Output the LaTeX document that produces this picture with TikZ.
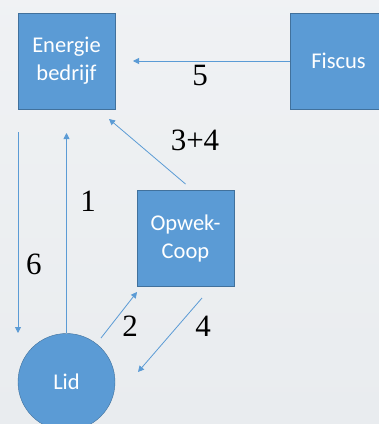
\documentclass[tikz,border=0pt]{standalone}
\usepackage{fontspec}
\newfontfamily\boxfont{Carlito}
\newfontfamily\numfont{Liberation Serif}
\usetikzlibrary{positioning, calc, arrows.meta}
\definecolor{myblue}{HTML}{5B9BD5}
\definecolor{myedge}{HTML}{41719C}
\definecolor{mysky}{HTML}{E9ECEF}
\tikzset{>={Triangle[length=6pt,width=6pt]}}

\begin{document}
\begin{tikzpicture}[x=1pt, y=-1pt,
    party/.style={draw=myedge, fill=myblue, text=white, align=center, inner sep=0pt,
      font=\boxfont\fontsize{22.5}{28}\selectfont, minimum width=97pt, minimum height=96pt},
    flow/.style={->, myblue, line width=0.8pt},
    num/.style={text=black, font=\numfont\fontsize{31}{36}\selectfont}]
    \clip (0,0) rectangle (379,424);
    \fill[top color=mysky!70!white, bottom color=mysky] (0,0) rectangle (379,424);
    % parties
    \node[party] (energie) at (66.5,61) {Energie\\bedrijf};
    \node[party] (fiscus) at (338.5,61) {Fiscus};
    \node[party] (opwek) at (185.5,238.5) {Opwek-\\Coop};
    \node[party, circle, minimum size=97pt] (lid) at (66.5,382) {Lid};
    % loose arrow ends
    \coordinate (tip5) at (133,61);
    \coordinate (tip34) at (109,119);
    \coordinate (tail34) at (185.5,184);
    \coordinate (tail6) at (18,132);
    \coordinate (tip6) at (18,333);
    \coordinate (tip1) at (66.5,133);
    \coordinate (tail2) at (101,338);
    \coordinate (tip2) at (137,292);
    \coordinate (tail4) at (202,298);
    \coordinate (tip4) at (138,372);
    % flows
    \draw[flow] (fiscus) -- (tip5);
    \node[num] (l5) at (200,75) {5};
    \draw[flow] (tail34) -- (tip34);
    \node[num] (l34) at (195,140) {3+4};
    \draw[flow] (tail6) -- (tip6);
    \node[num] (l6) at (34,264) {6};
    \draw[flow] (lid) -- (tip1);
    \node[num] (l1) at (88,201) {1};
    \draw[flow] (tail2) -- (tip2);
    \node[num] (l2) at (130,326) {2};
    \draw[flow] (tail4) -- (tip4);
    \node[num] (l4) at (203,326) {4};
\end{tikzpicture}
\end{document}
